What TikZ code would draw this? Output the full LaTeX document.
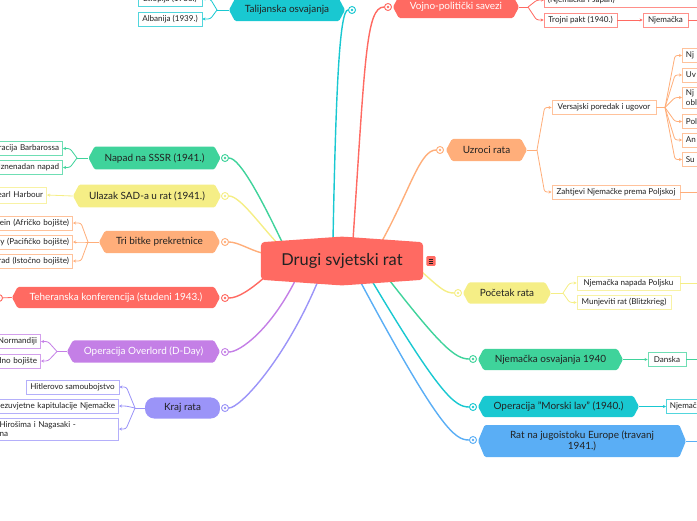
\documentclass[tikz,border=0pt]{standalone}
\usepackage{fontspec}
\setmainfont{Lato}
\usetikzlibrary{positioning,arrows.meta,shapes.symbols,calc}

\definecolor{rootc}{HTML}{FF6A62}
\definecolor{tealc}{HTML}{19C8D1}
\definecolor{redc}{HTML}{FF6A62}
\definecolor{orangec}{HTML}{FFAE7A}
\definecolor{greenc}{HTML}{3FD39B}
\definecolor{yellowc}{HTML}{F5EE86}
\definecolor{purplec}{HTML}{C47FE6}
\definecolor{lavc}{HTML}{9B94F8}
\definecolor{bluec}{HTML}{5AAEF5}
\definecolor{inkc}{HTML}{222222}

\newcommand\rootfont{\fontsize{14}{16}\selectfont}
\newcommand\branchfont{\fontsize{8.5}{10}\selectfont}
\newcommand\leaffont{\fontsize{6.9}{8}\selectfont}

\pgfdeclarelayer{bg}
\pgfsetlayers{bg,main}

\begin{document}
\begin{tikzpicture}[
  x=0.03cm, y=-0.03cm,
  every node/.style={text=inkc},
  rootbox/.style={signal, signal to=north and south, signal pointer angle=172, fill=rootc, rounded corners=3pt, minimum width=138.3pt, minimum height=39.3pt, font=\rootfont, inner sep=0pt},
  branch/.style={signal, signal to=east and west, signal pointer angle=124, fill=#1, rounded corners=1.2pt, font=\branchfont, inner sep=1pt, minimum height=18.8pt},
  capsule/.style={rectangle, rounded corners=8pt, fill=#1, font=\branchfont, inner sep=1pt, minimum height=18pt},
  knob/.style={circle, draw=#1, line width=0.8pt, fill=white, minimum size=6pt, inner sep=0pt, path picture={\fill[#1] (path picture bounding box.center) circle (1.1pt);}},
  leaf/.style={rectangle, draw=#1!75, line width=0.7pt, fill=white, font=\leaffont, inner xsep=3pt, inner ysep=1pt, minimum height=12pt},
  lhang/.style={anchor=east, text width=150pt, align=right},
  rhang/.style={anchor=west, text width=60pt, align=left},
  limb/.style={draw=#1, line width=1.2pt},
  twig/.style={draw=#1, line width=0.7pt, rounded corners=2pt},
  twiga/.style={draw=#1, line width=0.7pt, rounded corners=2pt, -{Stealth[length=2.6pt,width=2.6pt]}}
]
\useasboundingbox (0,0) rectangle (697,520);

% centre
\node[rootbox] (root) at (342,261) {Drugi svjetski rat};
\node[rectangle, fill=rootc, rounded corners=1pt, minimum width=7.7pt, minimum height=8.5pt, inner sep=0pt,
  path picture={
    \foreach \dy in {-1.8pt,0pt,1.8pt}
      \draw[inkc, line width=0.5pt] ($(path picture bounding box.center)+(-2pt,\dy)$) -- ++(4pt,0pt);
  }] (menu) at (431,261) {};

% left branches
\node[branch=tealc, minimum width=99pt] (tal) at (287,10) {Talijanska osvajanja};
\node[branch=greenc, minimum width=112.7pt, minimum height=19.6pt] (napad) at (154.5,158) {Napad na SSSR (1941.)};
\node[branch=yellowc, minimum width=126.3pt, minimum height=19.6pt] (ulazak) at (147,196) {Ulazak SAD-a u rat (1941.)};
\node[branch=orangec, minimum width=103.3pt] (tri) at (159.5,242) {Tri bitke prekretnice};
\node[branch=redc, minimum width=177.5pt, minimum height=18pt, text=white] (teh) at (116,297.5) {Teheranska konferencija (studeni 1943.)};
\node[branch=purplec, minimum width=130.6pt, text=white] (over) at (143.5,351.5) {Operacija Overlord (D-Day)};
\node[capsule=lavc, minimum width=64pt] (kraj) at (182.5,408) {Kraj rata};

% right branches
\node[branch=redc, minimum width=107.6pt, text=white] (voj) at (456,7) {Vojno-politički savezi};
\node[branch=orangec, minimum width=69.1pt] (uzr) at (486.5,150) {Uzroci rata};
\node[branch=yellowc, minimum width=75.1pt, minimum height=18pt] (poc) at (507,293) {Početak rata};
\node[branch=greenc, minimum width=123.8pt, minimum height=18pt] (osv) at (550.5,359.5) {Njemačka osvajanja 1940};
\node[branch=tealc, minimum width=137.4pt, minimum height=18pt] (mor) at (558.5,406.5) {Operacija "Morski lav" (1940.)};
\node[branch=bluec, minimum width=177.5pt, minimum height=27.3pt, signal pointer angle=135, align=center] (rat) at (582,441) {Rat na jugoistoku Europe (travanj\\1941.)};

% knobs
\node[knob=tealc] (kTal) at (352,10) {};
\node[knob=greenc] (kNapad) at (225,158) {};
\node[knob=yellowc] (kUlazak) at (225,196) {};
\node[knob=orangec] (kTri) at (225,242) {};
\node[knob=redc] (kTeh) at (225,298) {};
\node[knob=redc] (kTehL) at (-1,298) {};
\node[knob=purplec] (kOver) at (225,352) {};
\node[knob=lavc] (kKraj) at (225,408) {};
\node[knob=redc] (kVoj) at (388,7) {};
\node[knob=orangec] (kUzr) at (440,150) {};
\node[knob=yellowc] (kPoc) at (458,293) {};
\node[knob=greenc] (kOsv) at (473,359) {};
\node[knob=tealc] (kMor) at (473,407) {};
\node[knob=bluec] (kRat) at (473,440) {};

% left leaves
\node[leaf=tealc, minimum width=54.6pt] (etiop) at (170,-1) {Etiopija (1936.)};
\node[leaf=tealc, minimum width=54.6pt] (alban) at (170,19) {Albanija (1939.)};
\node[leaf=greenc, lhang] (barb) at (63,148.5) {Operacija Barbarossa};
\node[leaf=greenc, lhang] (izn) at (63,167.5) {Iznenadan napad};
\node[leaf=yellowc, lhang, minimum height=13.5pt] (pearl) at (47,195) {Pearl Harbour};
\node[leaf=orangec, lhang] (alam) at (73,223) {El Alamein (Afričko bojište)};
\node[leaf=orangec, lhang] (midw) at (73,242) {Midway (Pacifičko bojište)};
\node[leaf=orangec, lhang] (stal) at (73,261) {Staljingrad (Istočno bojište)};
\node[leaf=purplec, lhang] (norm) at (41,341.5) {Iskrcavanje u Normandiji};
\node[leaf=purplec, lhang] (zap) at (41,361) {Zapadno bojište};
\node[leaf=lavc, minimum width=79.4pt] (hitl) at (72.5,387) {Hitlerovo samoubojstvo};
\node[leaf=lavc, lhang] (kapit) at (119,406) {bezuvjetne kapitulacije Njemačke};
\node[leaf=lavc, anchor=east, text width=98.6pt, align=left, minimum height=18.8pt] (hiros) at (119,429) {Hirošima i Nagasaki -\\na};

% right leaves
\node[leaf=redc, anchor=west, text width=200pt, align=left, minimum height=12.8pt] (japan) at (544,0) {(Njemačka i Japan)};
\node[leaf=redc, minimum width=62.3pt] (trojni) at (580.5,20) {Trojni pakt (1940.)};
\node[leaf=redc, minimum width=38.4pt] (njem) at (665.5,20) {Njemačka};
\node[leaf=orangec, minimum width=88.8pt] (vers) at (604,107.5) {Versajski poredak i ugovor};
\node[leaf=orangec, minimum width=109.3pt] (zaht) at (616,192) {Zahtjevi Njemačke prema Poljskoj};
\node[leaf=orangec, rhang] (v1) at (682,55.5) {Nj};
\node[leaf=orangec, rhang] (v2) at (682,75) {Uv};
\node[leaf=orangec, rhang, minimum height=18pt] (v3) at (682,97.5) {Nj\\obl};
\node[leaf=orangec, rhang] (v4) at (682,121.5) {Pol};
\node[leaf=orangec, rhang] (v5) at (682,140) {An};
\node[leaf=orangec, rhang] (v6) at (682,159.5) {Su};
\node[leaf=yellowc, minimum width=87.9pt] (napP) at (628.5,283) {Njemačka napada Poljsku};
\node[leaf=yellowc, minimum width=80.2pt] (munj) at (624,302.5) {Munjeviti rat (Blitzkrieg)};
\node[leaf=greenc, minimum width=32.4pt] (dansk) at (667,359.5) {Danska};
\node[leaf=tealc, rhang] (njemM) at (666,406.5) {Njemač};

% forks and free ends
\coordinate (fTal) at (217,10);
\coordinate (fNapad) at (77,158);
\coordinate (fTri) at (88,242);
\coordinate (fOver) at (57,351.5);
\coordinate (fKraj) at (135,408);
\coordinate (fVoj) at (528,7);
\coordinate (fUzr) at (537,150);
\coordinate (fVers) at (665,107.5);
\coordinate (fPoc) at (563,293);
\coordinate (eNjem) at (700,20);
\coordinate (eZaht) at (700,192);
\coordinate (eNapP) at (700,283);
\coordinate (eDansk) at (700,359.5);
\coordinate (eRat) at (700,441);

\begin{pgfonlayer}{bg}
\draw[limb=tealc] ($(root)+(-9,-21)$) .. controls (336,80) and (340,10) .. (kTal);
\draw[limb=greenc] ($(root)+(-59,-17)$) .. controls (262,200) and (240,158) .. (kNapad);
\draw[limb=yellowc] ($(root)+(-63,-16)$) .. controls (260,225) and (240,196) .. (kUlazak);
\draw[limb=orangec] ($(root)+(-80,-8)$) .. controls (250,250) and (238,242) .. (kTri);
\draw[limb=redc] ($(root)+(-77,16)$) .. controls (250,290) and (238,298) .. (kTeh);
\draw[limb=purplec] ($(root)+(-47,20)$) .. controls (270,330) and (240,352) .. (kOver);
\draw[limb=lavc] ($(root)+(-24,20)$) .. controls (285,360) and (240,408) .. (kKraj);
\draw[limb=redc] ($(root)+(11,-21)$) .. controls (365,60) and (366,7) .. (kVoj);
\draw[limb=orangec] ($(root)+(40,-20)$) .. controls (410,190) and (420,150) .. (kUzr);
\draw[limb=yellowc] ($(root)+(80,11)$) .. controls (440,288) and (445,293) .. (kPoc);
\draw[limb=greenc] ($(root)+(48,20)$) .. controls (440,345) and (455,359) .. (kOsv);
\draw[limb=tealc] ($(root)+(30,20)$) .. controls (440,395) and (455,407) .. (kMor);
\draw[limb=bluec] ($(root)+(18,20)$) .. controls (440,430) and (455,440) .. (kRat);
\end{pgfonlayer}

\draw[twig=tealc] (tal.west) -- (fTal);
\draw[twiga=tealc] (fTal) -- ($(etiop.east)+(8,0)$) -- (etiop.east);
\draw[twiga=tealc] (fTal) -- ($(alban.east)+(8,0)$) -- (alban.east);
\draw[twig=greenc] (napad.west) -- (fNapad);
\draw[twiga=greenc] (fNapad) -- ($(barb.east)+(7,0)$) -- (barb.east);
\draw[twiga=greenc] (fNapad) -- ($(izn.east)+(7,0)$) -- (izn.east);
\draw[twiga=yellowc] (ulazak.west) -- (pearl.east);
\draw[twig=orangec] (tri.west) -- (fTri);
\draw[twiga=orangec] (fTri) -- ($(alam.east)+(8,0)$) -- (alam.east);
\draw[twiga=orangec] (fTri) -- ($(midw.east)+(8,0)$) -- (midw.east);
\draw[twiga=orangec] (fTri) -- ($(stal.east)+(8,0)$) -- (stal.east);
\draw[twig=redc] (teh.west) -- (kTehL);
\draw[twig=purplec] (over.west) -- (fOver);
\draw[twiga=purplec] (fOver) -- ($(norm.east)+(7,0)$) -- (norm.east);
\draw[twiga=purplec] (fOver) -- ($(zap.east)+(7,0)$) -- (zap.east);
\draw[twig=lavc] (kraj.west) -- (fKraj);
\draw[twiga=lavc] (fKraj) -- ($(hitl.east)+(7,0)$) -- (hitl.east);
\draw[twiga=lavc] (fKraj) -- ($(kapit.east)+(7,0)$) -- (kapit.east);
\draw[twiga=lavc] (fKraj) -- ($(hiros.east)+(7,0)$) -- (hiros.east);

\draw[twig=redc] (voj.east) -- (fVoj);
\draw[twiga=redc] (fVoj) -- ($(japan.west)+(-7,0)$) -- (japan.west);
\draw[twiga=redc] (fVoj) -- ($(trojni.west)+(-7,0)$) -- (trojni.west);
\draw[twiga=redc] (trojni.east) -- (njem.west);
\draw[twig=redc] (njem.east) -- (eNjem);
\draw[twig=orangec] (uzr.east) -- (fUzr);
\draw[twiga=orangec] (fUzr) -- ($(vers.west)+(-7,0)$) -- (vers.west);
\draw[twiga=orangec] (fUzr) -- ($(zaht.west)+(-7,0)$) -- (zaht.west);
\draw[twig=orangec] (zaht.east) -- (eZaht);
\draw[twig=orangec] (vers.east) -- (fVers);
\foreach \v in {v1,v2,v3,v4,v5,v6}
  \draw[twiga=orangec] (fVers) -- ($(\v.west)+(-7,0)$) -- (\v.west);
\draw[twig=yellowc] (poc.east) -- (fPoc);
\draw[twiga=yellowc] (fPoc) -- ($(napP.west)+(-7,0)$) -- (napP.west);
\draw[twiga=yellowc] (fPoc) -- ($(munj.west)+(-7,0)$) -- (munj.west);
\draw[twig=yellowc] (napP.east) -- (eNapP);
\draw[twiga=greenc] (osv.east) -- (dansk.west);
\draw[twig=greenc] (dansk.east) -- (eDansk);
\draw[twiga=tealc] (mor.east) -- (njemM.west);
\draw[twig=bluec] (rat.east) -- (eRat);
\end{tikzpicture}
\end{document}
